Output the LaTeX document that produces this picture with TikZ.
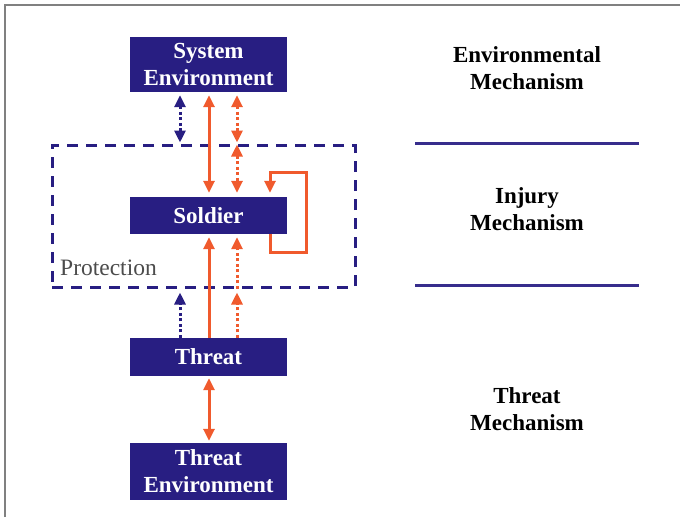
\documentclass[tikz,border=0pt]{standalone}
\usepackage{fontspec}
\setmainfont{Liberation Serif}
\usetikzlibrary{arrows.meta}
\definecolor{navy}{RGB}{40,30,130}
\definecolor{navyline}{RGB}{55,45,140}
\definecolor{orng}{RGB}{240,90,45}
\begin{document}
\begin{tikzpicture}[x=1pt,y=-1pt,
  >={Triangle[length=12pt,width=11pt]},
  box/.style={draw=none,fill=navy,text=white,font=\fontsize{23}{27}\selectfont\bfseries,
    align=center,minimum width=157pt,inner sep=0pt},
  lab/.style={font=\fontsize{23}{27}\selectfont\bfseries,align=center},
  oarrow/.style={draw=orng,line width=3pt},
  odot/.style={draw=orng,line width=3pt,dash pattern=on 3pt off 2.5pt},
  ndot/.style={draw=navy,line width=3pt,dash pattern=on 3pt off 2.5pt},
  sepline/.style={draw=navyline,line width=3pt}]
\useasboundingbox (0,0) rectangle (680,517);
\fill[white] (0,0) rectangle (680,517);
% frame
\draw[gray,line width=1.5pt] (5,517) -- (5,5) -- (680,5);
% boxes
\node[box,minimum height=55pt] (sys) at (208.5,64.5) {System\\Environment};
\node[box,minimum height=37pt] (sold) at (208.5,215.5) {Soldier};
\node[box,minimum height=38pt] (thr) at (208.5,357) {Threat};
\node[box,minimum height=57pt] (tenv) at (208.5,471.5) {Threat\\Environment};
% protection boundary
\node[draw=navy,line width=3pt,dash pattern=on 11pt off 8pt,minimum width=303pt,minimum height=142pt,inner sep=0pt] (prot) at (203.5,216) {};
\node[anchor=west,text=black!70,font=\fontsize{23.5}{25}\selectfont,inner sep=0pt] (plab) at (60,268) {Protection};
% columns
\coordinate (cA) at (180,0);
\coordinate (cB) at (209,0);
\coordinate (cC) at (237,0);
\coordinate (cL) at (270,0);
% upper arrows
\draw[ndot,<->,shorten <=3pt,shorten >=1pt] (sys.south -| cA) -- (prot.north -| cA);
\draw[oarrow,<->,shorten <=3pt,shorten >=4pt] (sys.south -| cB) -- (sold.north -| cB);
\draw[odot,<->,shorten <=3pt,shorten >=1pt] (sys.south -| cC) -- (prot.north -| cC);
\draw[odot,<->,shorten <=1pt,shorten >=4pt] (prot.north -| cC) -- (sold.north -| cC);
% self loop
\draw[oarrow,->,shorten >=4pt] (sold.south -| cL) -- (270,252) -| (306,172) -| (sold.north -| cL);
% lower arrows
\draw[oarrow,->,shorten >=3pt] (thr.north -| cB) -- (sold.south -| cB);
\draw[odot,->,shorten >=4pt] (thr.north -| cC) -- (prot.south -| cC);
\draw[odot,->,shorten >=3pt] (prot.south -| cC) -- (sold.south -| cC);
\draw[ndot,->,shorten >=4pt] (thr.north -| cA) -- (prot.south -| cA);
\draw[oarrow,<->,shorten <=2pt,shorten >=2pt] (thr.south -| cB) -- (tenv.north -| cB);
% right side labels
\node[lab] (envm) at (527,68.5) {Environmental\\Mechanism};
\node[lab] (injm) at (527,209) {Injury\\Mechanism};
\node[lab] (thrm) at (527,409) {Threat\\Mechanism};
\coordinate (l1a) at (415,143); \coordinate (l1b) at (639,143);
\coordinate (l2a) at (415,285); \coordinate (l2b) at (639,285);
\draw[sepline] (l1a) -- (l1b);
\draw[sepline] (l2a) -- (l2b);
\end{tikzpicture}
\end{document}
